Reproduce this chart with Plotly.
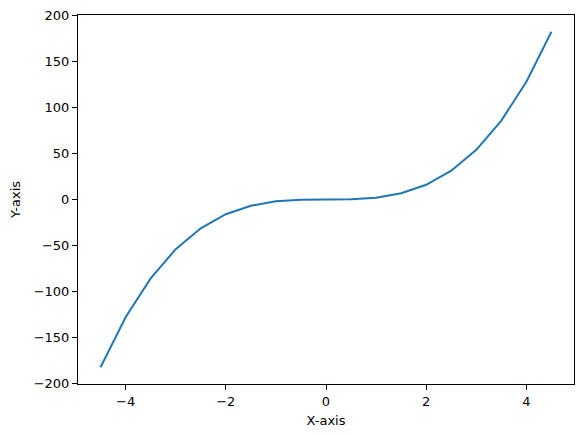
import plotly.graph_objects as go

x_values = [-4.5, -4.0, -3.5, -3.0, -2.5, -2.0, -1.5, -1.0, -0.5, 0.0,
            0.5, 1.0, 1.5, 2.0, 2.5, 3.0, 3.5, 4.0, 4.5]
y_values = [-182.25, -128.0, -85.75, -54.0, -31.25, -16.0, -6.75, -2.0, -0.25, 0.0,
            0.25, 2.0, 6.75, 16.0, 31.25, 54.0, 85.75, 128.0, 182.25]
x_ticks = [-4, -2, 0, 2, 4]
x_tick_labels = ["\u22124", "\u22122", "0", "2", "4"]
y_ticks = [-200, -150, -100, -50, 0, 50, 100, 150, 200]
y_tick_labels = ["\u2212200", "\u2212150", "\u2212100", "\u221250", "0", "50", "100", "150", "200"]

fig = go.Figure(go.Scatter(x=x_values, y=y_values, mode="lines",
                           line=dict(color="#1f77b4", width=2), cliponaxis=False))

axis_common = dict(showgrid=False, zeroline=False, showline=True, linecolor="black",
                   linewidth=1, mirror=True, ticks="outside", ticklen=5, tickwidth=1,
                   tickcolor="black", automargin=False, ticklabeloverflow="allow",
                   tickfont=dict(family="DejaVu Sans", size=13, color="black"))

fig.update_layout(
    width=583, height=437,
    margin=dict(l=70, r=17, t=7, b=61),
    paper_bgcolor="white", plot_bgcolor="white",
    showlegend=False,
    font=dict(family="DejaVu Sans", size=13, color="black"),
    xaxis=dict(range=[-4.95, 4.95], tickvals=x_ticks, ticktext=x_tick_labels,
               title=dict(text="X-axis", font=dict(size=13), standoff=8), **axis_common),
    yaxis=dict(range=[-200.475, 200.475], tickvals=y_ticks, ticktext=y_tick_labels,
               title=dict(text="Y-axis", font=dict(size=13), standoff=10), **axis_common),
)

fig.write_html("out.html")
